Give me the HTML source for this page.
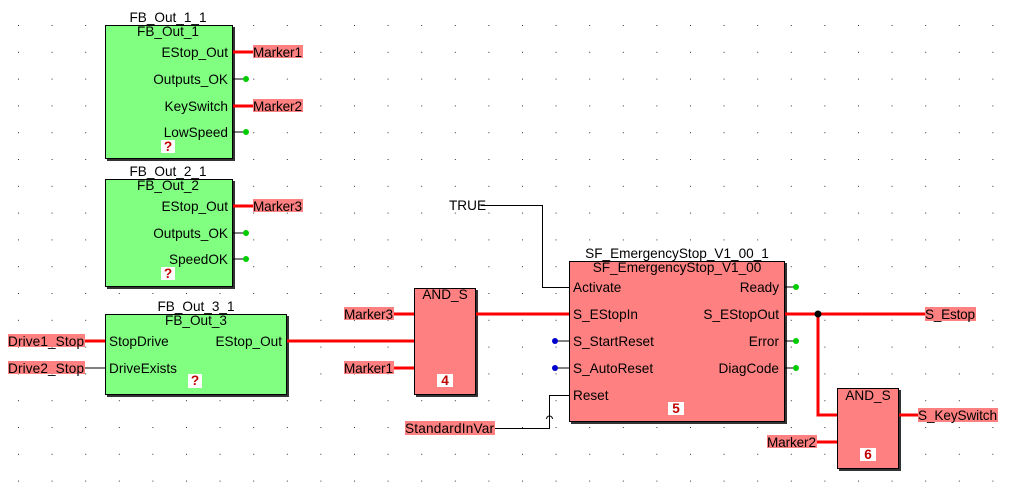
<!DOCTYPE html>
<html><head><meta charset="utf-8"><style>
html,body{margin:0;padding:0;background:#fff;}
svg{display:block;font-family:"Liberation Sans",sans-serif;font-size:13.6px;}
</style></head><body>
<svg width="1009" height="495" viewBox="0 0 1009 495" xmlns="http://www.w3.org/2000/svg">
<defs>
<pattern id="g" x="18" y="25" width="33.6" height="26.8" patternUnits="userSpaceOnUse">
<rect x="0" y="0" width="1" height="1" fill="#333"/>
</pattern>
</defs>
<rect width="1009" height="495" fill="url(#g)"/>

<!-- FB_Out_1 -->
<rect x="107" y="27" width="128" height="134" fill="#333"/>
<rect x="105.5" y="25.5" width="127" height="133" fill="#80ff80" stroke="#000"/>
<text x="168" y="22" text-anchor="middle">FB_Out_1_1</text>
<text x="168" y="36" text-anchor="middle">FB_Out_1</text>
<text x="228" y="57" text-anchor="end">EStop_Out</text>
<text x="228" y="84" text-anchor="end">Outputs_OK</text>
<text x="228" y="111" text-anchor="end">KeySwitch</text>
<text x="228" y="137" text-anchor="end">LowSpeed</text>
<rect x="161" y="140" width="14" height="13" fill="#fff"/><text x="168" y="151" text-anchor="middle" fill="#c00000" font-weight="bold">?</text>
<line x1="233" y1="52" x2="253" y2="52" stroke="red" stroke-width="3"/>
<line x1="233" y1="106" x2="253" y2="106" stroke="red" stroke-width="3"/>
<line x1="233" y1="79" x2="246" y2="79" stroke="#000"/><circle cx="246" cy="79" r="3" fill="#0c0"/>
<line x1="233" y1="132" x2="246" y2="132" stroke="#000"/><circle cx="246" cy="132" r="3" fill="#0c0"/>
<rect x="253" y="45" width="50" height="13" fill="#ff8080"/><text x="253" y="57" textLength="49">Marker1</text>
<rect x="253" y="99" width="50" height="13" fill="#ff8080"/><text x="253" y="111" textLength="49">Marker2</text>

<!-- FB_Out_2 -->
<rect x="107" y="181" width="128" height="108" fill="#333"/>
<rect x="105.5" y="179.5" width="127" height="107" fill="#80ff80" stroke="#000"/>
<text x="168" y="176" text-anchor="middle">FB_Out_2_1</text>
<text x="168" y="190" text-anchor="middle">FB_Out_2</text>
<text x="228" y="211" text-anchor="end">EStop_Out</text>
<text x="228" y="238" text-anchor="end">Outputs_OK</text>
<text x="228" y="264" text-anchor="end">SpeedOK</text>
<rect x="161" y="267" width="14" height="13" fill="#fff"/><text x="168" y="278" text-anchor="middle" fill="#c00000" font-weight="bold">?</text>
<line x1="233" y1="206" x2="253" y2="206" stroke="red" stroke-width="3"/>
<line x1="233" y1="233" x2="246" y2="233" stroke="#000"/><circle cx="246" cy="233" r="3" fill="#0c0"/>
<line x1="233" y1="259" x2="246" y2="259" stroke="#000"/><circle cx="246" cy="259" r="3" fill="#0c0"/>
<rect x="253" y="199" width="50" height="13" fill="#ff8080"/><text x="253" y="211" textLength="49">Marker3</text>

<!-- FB_Out_3 -->
<rect x="107" y="316" width="182" height="81" fill="#333"/>
<rect x="105.5" y="314.5" width="181" height="80" fill="#80ff80" stroke="#000"/>
<text x="196" y="311" text-anchor="middle">FB_Out_3_1</text>
<text x="196" y="325" text-anchor="middle">FB_Out_3</text>
<text x="109" y="346">StopDrive</text>
<text x="109" y="373">DriveExists</text>
<text x="282" y="346" text-anchor="end">EStop_Out</text>
<rect x="188" y="374" width="14" height="14" fill="#fff"/><text x="195" y="385" text-anchor="middle" fill="#c00000" font-weight="bold">?</text>
<rect x="8" y="334" width="77" height="13" fill="#ff8080"/><text x="8" y="346" textLength="76">Drive1_Stop</text>
<rect x="8" y="361" width="77" height="13" fill="#ff8080"/><text x="8" y="373" textLength="76">Drive2_Stop</text>
<line x1="85" y1="341" x2="105" y2="341" stroke="red" stroke-width="3"/>
<line x1="85" y1="368" x2="105" y2="368" stroke="#000"/>
<line x1="287" y1="341" x2="415" y2="341" stroke="red" stroke-width="3"/>

<!-- AND_S 4 -->
<rect x="416" y="290" width="62" height="107" fill="#333"/>
<rect x="414.5" y="288.5" width="61" height="106" fill="#ff8080" stroke="#000"/>
<text x="445" y="299" text-anchor="middle">AND_S</text>
<rect x="437" y="374" width="16" height="13" fill="#fff"/><text x="445" y="385" text-anchor="middle" fill="#c00000" font-weight="bold">4</text>
<rect x="344" y="307" width="50" height="13" fill="#ff8080"/><text x="344" y="319" textLength="49">Marker3</text>
<rect x="344" y="361" width="50" height="13" fill="#ff8080"/><text x="344" y="373" textLength="49">Marker1</text>
<line x1="394" y1="314" x2="414" y2="314" stroke="red" stroke-width="3"/>
<line x1="394" y1="368" x2="414" y2="368" stroke="red" stroke-width="3"/>
<line x1="476" y1="314" x2="569" y2="314" stroke="red" stroke-width="3"/>

<!-- SF_EmergencyStop -->
<rect x="571" y="263" width="216" height="161" fill="#333"/>
<rect x="569.5" y="261.5" width="215" height="160" fill="#ff8080" stroke="#000"/>
<text x="677" y="258" text-anchor="middle">SF_EmergencyStop_V1_00_1</text>
<text x="677" y="272" text-anchor="middle">SF_EmergencyStop_V1_00</text>
<text x="573" y="292">Activate</text>
<text x="573" y="319">S_EStopIn</text>
<text x="573" y="346">S_StartReset</text>
<text x="573" y="373">S_AutoReset</text>
<text x="573" y="400">Reset</text>
<text x="779" y="292" text-anchor="end">Ready</text>
<text x="779" y="319" text-anchor="end">S_EStopOut</text>
<text x="779" y="346" text-anchor="end">Error</text>
<text x="779" y="373" text-anchor="end">DiagCode</text>
<rect x="668" y="402" width="16" height="13" fill="#fff"/><text x="676" y="413" text-anchor="middle" fill="#c00000" font-weight="bold">5</text>
<line x1="555" y1="341" x2="569" y2="341" stroke="#000"/><circle cx="555" cy="341" r="3" fill="#00c"/>
<line x1="555" y1="368" x2="569" y2="368" stroke="#000"/><circle cx="555" cy="368" r="3" fill="#00c"/>
<text x="449" y="210">TRUE</text>
<polyline points="481,205.5 542.5,205.5 542.5,287.5 569,287.5" fill="none" stroke="#000"/>
<rect x="405" y="421" width="90" height="14" fill="#ff8080"/><text x="405" y="433" textLength="89">StandardInVar</text>
<polyline points="495,428.5 549.5,428.5 549.5,395.5 569,395.5" fill="none" stroke="#000"/>
<path d="M546.5,419 a3,3 0 0 1 6,0" fill="none" stroke="#000"/>
<line x1="785" y1="287" x2="796" y2="287" stroke="#000"/><circle cx="796" cy="287" r="3" fill="#0c0"/>
<line x1="785" y1="341" x2="796" y2="341" stroke="#000"/><circle cx="796" cy="341" r="3" fill="#0c0"/>
<line x1="785" y1="368" x2="796" y2="368" stroke="#000"/><circle cx="796" cy="368" r="3" fill="#0c0"/>
<line x1="785" y1="314" x2="925" y2="314" stroke="red" stroke-width="3"/>
<polyline points="818,314 818,415 837,415" fill="none" stroke="red" stroke-width="3"/>
<circle cx="818" cy="314" r="3.5" fill="#000"/>
<rect x="925" y="307" width="51" height="14" fill="#ff8080"/><text x="925" y="319" textLength="50">S_Estop</text>

<!-- AND_S 6 -->
<rect x="839" y="390" width="62" height="81" fill="#333"/>
<rect x="837.5" y="388.5" width="61" height="80" fill="#ff8080" stroke="#000"/>
<text x="868" y="400" text-anchor="middle">AND_S</text>
<rect x="860" y="448" width="16" height="13" fill="#fff"/><text x="868" y="459" text-anchor="middle" fill="#c00000" font-weight="bold">6</text>
<rect x="767" y="435" width="50" height="13" fill="#ff8080"/><text x="767" y="447" textLength="49">Marker2</text>
<line x1="817" y1="442" x2="837" y2="442" stroke="red" stroke-width="3"/>
<line x1="899" y1="415" x2="918" y2="415" stroke="red" stroke-width="3"/>
<rect x="918" y="408" width="80" height="14" fill="#ff8080"/><text x="918" y="420" textLength="79">S_KeySwitch</text>
</svg>
</body></html>
